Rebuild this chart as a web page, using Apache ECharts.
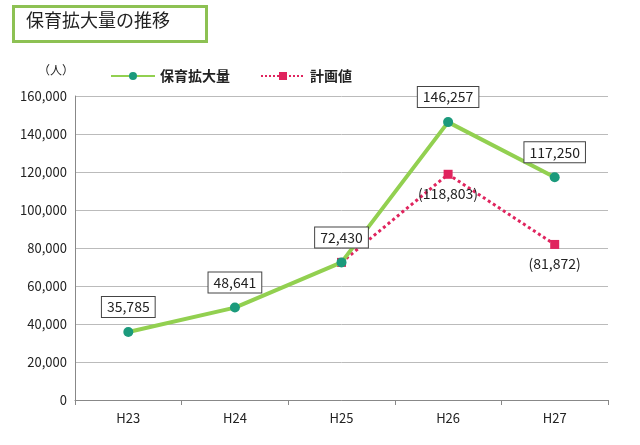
<!DOCTYPE html>
<html><head><meta charset="utf-8">
<script src="https://cdn.jsdelivr.net/npm/echarts@6/dist/echarts.min.js"></script>
</head><body style="margin:0;background:#fff">
<div id="chart" style="width:640px;height:445px"></div>
<script>
var years = ['H23', 'H24', 'H25', 'H26', 'H27'];
var actual = [35785, 48641, 72430, 146257, 117250];
var plan = [null, null, 72430, 118803, 81872];
var yTicks = [0, 20000, 40000, 60000, 80000, 100000, 120000, 140000, 160000];

var myChart = echarts.init(document.getElementById('chart'));
var font = '"Noto Sans CJK JP", sans-serif';
var option = {
  textStyle: { fontFamily: font },
  graphic: [
    { type: 'rect', left: 12, top: 5, shape: { width: 193, height: 35 },
      style: { fill: '#fff', stroke: '#8dc153', lineWidth: 3 } },
    { type: 'text', left: 26, top: 11, style: { text: '保育拡大量の推移', fontSize: 18, fill: '#222', fontFamily: font } },
    { type: 'text', left: 38, top: 64, style: { text: '（人）', fontSize: 12, fill: '#222', fontFamily: font } }
  ],
  legend: {
    left: 105, top: 64, itemWidth: 44, itemHeight: 10, itemGap: 30,
    textStyle: { fontSize: 14, fontWeight: 'bold', color: '#222', fontFamily: font },
    data: ['保育拡大量', '計画値']
  },
  grid: { left: 75, right: 32, top: 96, bottom: 45 },
  xAxis: {
    type: 'category', data: years,
    axisLine: { lineStyle: { color: '#888' } },
    axisTick: { show: true, alignWithLabel: false, lineStyle: { color: '#888' } },
    axisLabel: { color: '#222', fontSize: 13, margin: 12 }
  },
  yAxis: {
    type: 'value', min: yTicks[0], max: yTicks[yTicks.length - 1], interval: 20000,
    axisLine: { show: true, lineStyle: { color: '#888' } },
    splitLine: { lineStyle: { color: '#bbb' } },
    axisLabel: { color: '#222', fontSize: 13, formatter: function (v) { return v.toLocaleString('en-US'); } }
  },
  series: [
    {
      name: '保育拡大量', type: 'line', data: actual, z: 3,
      lineStyle: { color: '#92d050', width: 4 },
      itemStyle: { color: '#1b9a7c' }, symbol: 'circle', symbolSize: 10,
      label: {
        show: true, position: 'top', distance: 10, color: '#222', fontSize: 14,
        backgroundColor: '#fff', borderColor: '#444', borderWidth: 1, padding: [3, 5],
        formatter: function (p) { return p.value.toLocaleString('en-US'); }
      }
    },
    {
      name: '計画値', type: 'line', data: plan, z: 2,
      lineStyle: { color: '#e0245e', width: 3, type: 'dotted' },
      itemStyle: { color: '#e0245e' }, symbol: 'rect', symbolSize: 9,
      label: {
        show: true, position: 'bottom', distance: 8, color: '#222', fontSize: 14,
        formatter: function (p) { return p.dataIndex === 2 ? '' : '(' + p.value.toLocaleString('en-US') + ')'; }
      }
    }
  ]
};
myChart.setOption(option);
</script>
</body></html>
